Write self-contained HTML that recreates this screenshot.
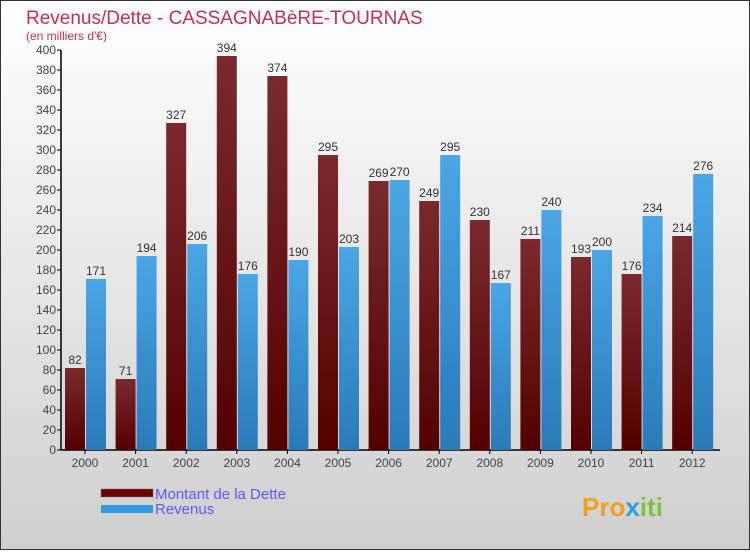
<!DOCTYPE html>
<html><head><meta charset="utf-8"><style>
body{margin:0;width:750px;height:550px;overflow:hidden;font-family:"Liberation Sans",sans-serif}
</style></head><body>
<svg width="750" height="550" xmlns="http://www.w3.org/2000/svg">
<defs>
<linearGradient id="bg" x1="0" y1="0" x2="0" y2="1"><stop offset="0" stop-color="#ffffff"/><stop offset="1" stop-color="#cfcfcf"/></linearGradient>
<linearGradient id="gd" x1="0" y1="0" x2="0" y2="1"><stop offset="0" stop-color="#7a2a2e"/><stop offset="1" stop-color="#540000"/></linearGradient>
<linearGradient id="gr" x1="0" y1="0" x2="0" y2="1"><stop offset="0" stop-color="#4aa6e6"/><stop offset="1" stop-color="#2a7ab8"/></linearGradient>
</defs>
<rect x="0.5" y="0.5" width="749" height="549" fill="url(#bg)" stroke="#333"/>
<text x="26" y="24" font-size="19" fill="#c0305a">Revenus/Dette - CASSAGNABèRE-TOURNAS</text>
<text x="26" y="40" font-size="12" fill="#c0305a">(en milliers d'€)</text>
<g id="axes"></g>
<g id="bars"></g>
<g>
<rect x="101" y="489" width="52" height="8" fill="#6b0000" stroke="#777" stroke-width="0.5"/>
<text x="155" y="499" font-size="15" fill="#5a5aff">Montant de la Dette</text>
<rect x="101" y="505" width="52" height="8" fill="#3399e0"/>
<text x="155" y="514" font-size="15" fill="#5a5aff">Revenus</text>
</g>
<text x="582" y="516" font-size="26" font-weight="bold" fill="#f0a020">Pro<tspan fill="#3399e0">x</tspan><tspan fill="#80c040">iti</tspan></text>
</svg>
<script>
const years=["2000","2001","2002","2003","2004","2005","2006","2007","2008","2009","2010","2011","2012"];
const dette=[82,71,327,394,374,295,269,249,230,211,193,176,214];
const revenus=[171,194,206,176,190,203,270,295,167,240,200,234,276];
const yTicks=[0,20,40,60,80,100,120,140,160,180,200,220,240,260,280,300,320,340,360,380,400];
const NS="http://www.w3.org/2000/svg";
const y=v=>450-v*1.0;
const xc=i=>85+i*50.6;
function mk(t,a,p){const e=document.createElementNS(NS,t);for(const k in a)e.setAttribute(k,a[k]);p.appendChild(e);return e;}
const ax=document.getElementById('axes'),bg=document.getElementById('bars');
const ya=mk('line',{x1:61,y1:50,x2:61,y2:450,stroke:'#000','stroke-width':1.5},ax);


const xa=mk('line',{x1:61,y1:450,x2:720,y2:450,stroke:'#000','stroke-width':1.5},ax);


yTicks.forEach(v=>{
 const l=mk('line',{x1:57,y1:y(v),x2:61,y2:y(v),stroke:'#000'},ax);
 
 
 const t=mk('text',{x:56,y:y(v)+4,'font-size':12,'text-anchor':'end',fill:'#444'},ax);
 t.textContent=v;
 
 
});
years.forEach((yr,i)=>{
 const c=xc(i);
 const tk=mk('line',{x1:c,y1:450,x2:c,y2:454,stroke:'#000'},ax);
 
 
 const t=mk('text',{x:c,y:467,'font-size':12,'text-anchor':'middle',fill:'#444'},ax);
 t.textContent=yr;
 
 
 const b1=mk('rect',{x:c-20,y:y(dette[i]),width:20,height:450-y(dette[i]),fill:'url(#gd)'},bg);
 
 
 const b2=mk('rect',{x:c+1,y:y(revenus[i]),width:20,height:450-y(revenus[i]),fill:'url(#gr)'},bg);
 
 
 const l1=mk('text',{x:c-10,y:y(dette[i])-4,'font-size':12,'text-anchor':'middle',fill:'#333'},bg);
 l1.textContent=dette[i];
 
 
 const l2=mk('text',{x:c+11,y:y(revenus[i])-4,'font-size':12,'text-anchor':'middle',fill:'#333'},bg);
 l2.textContent=revenus[i];
 
 
});
</script>
</body></html>
